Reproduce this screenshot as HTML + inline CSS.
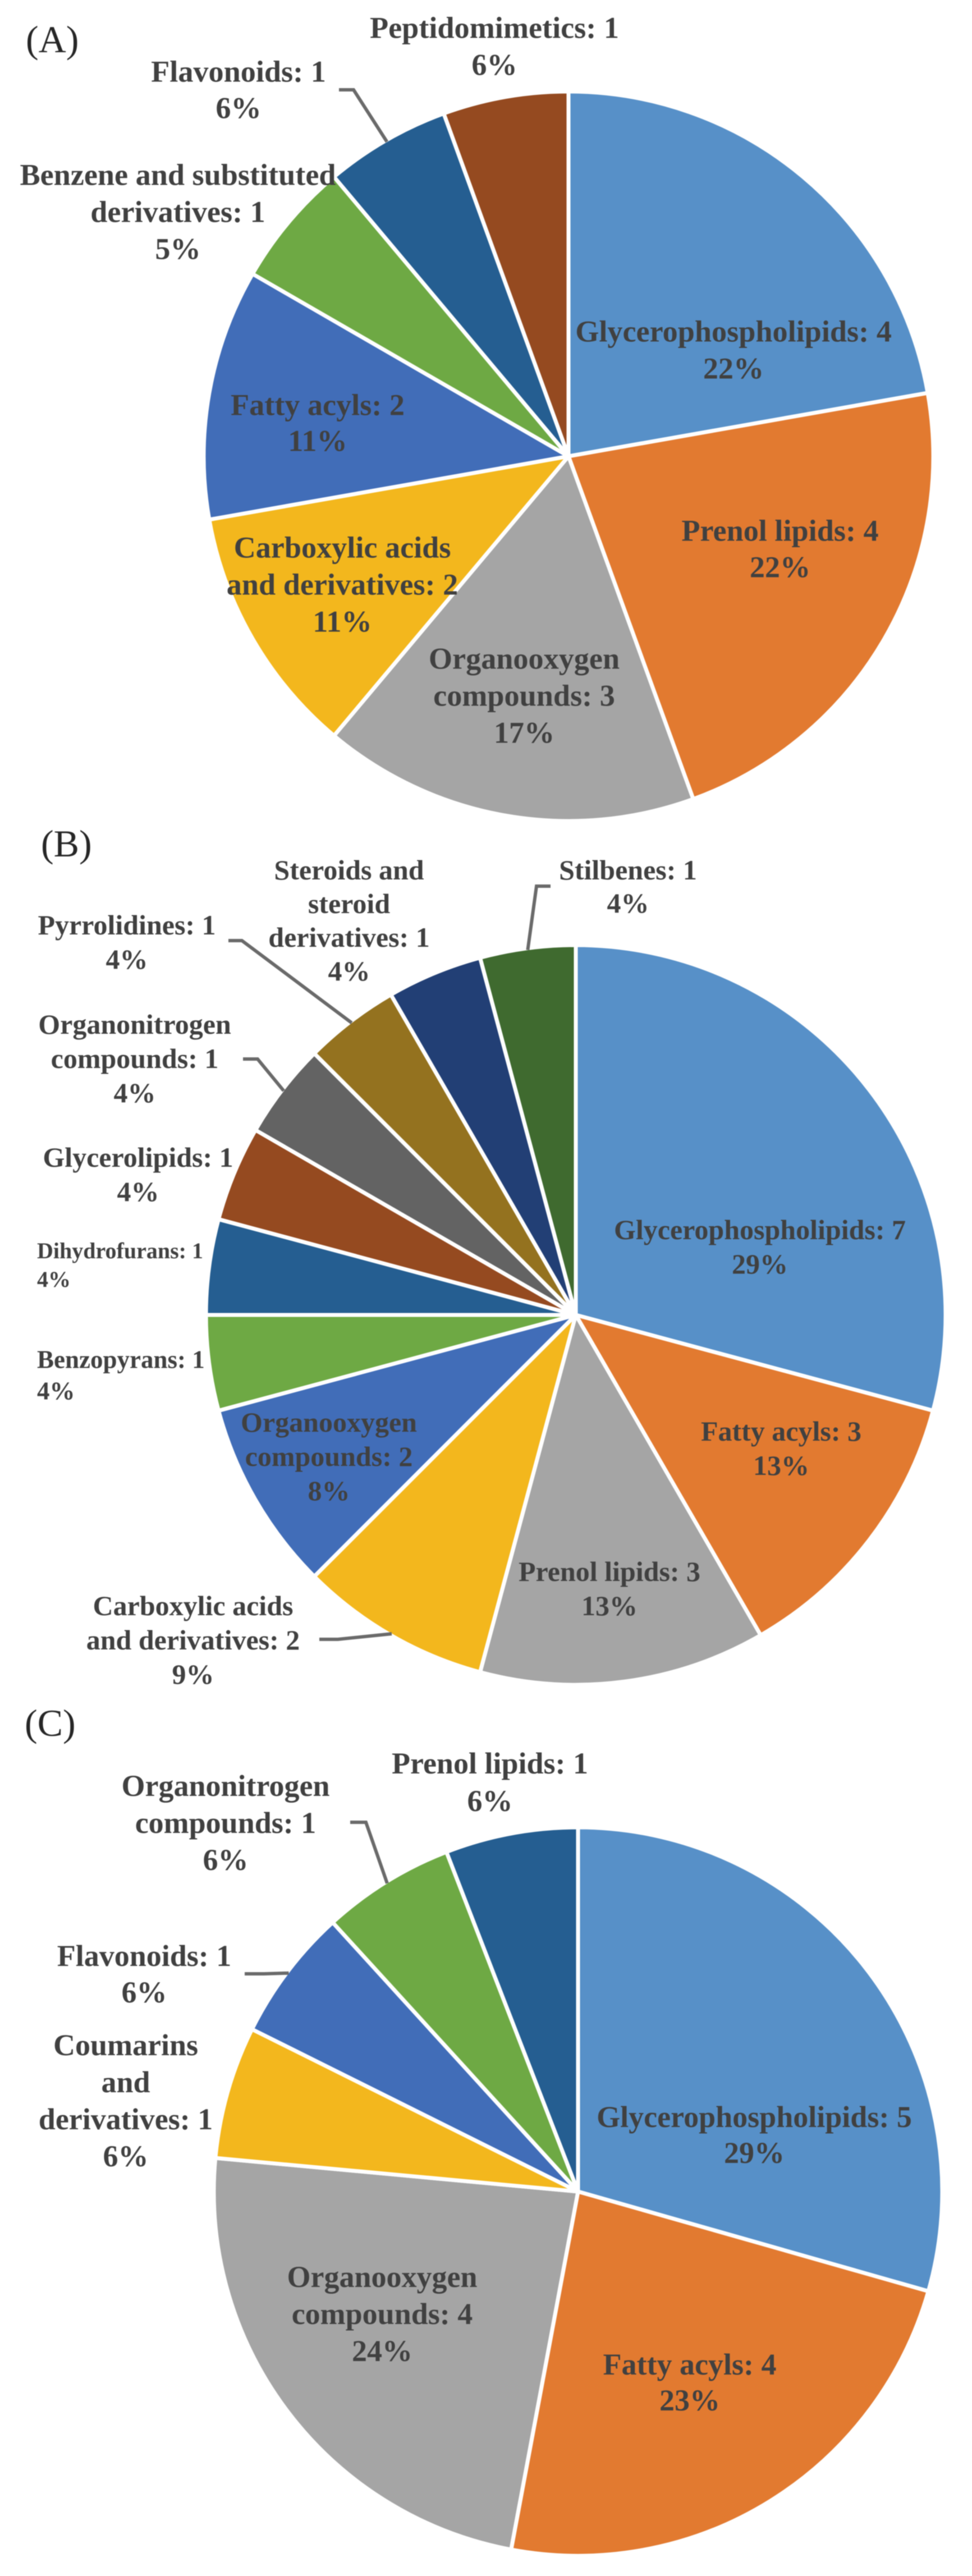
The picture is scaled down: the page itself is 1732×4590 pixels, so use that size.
<!DOCTYPE html>
<html lang="en">
<head>
<meta charset="utf-8">
<title>Pie charts of compound classes</title>
<style>
  html, body { margin: 0; padding: 0; background: #ffffff; }
  svg { display: block; filter: blur(0.8px); }
  text { font-family: "Liberation Serif", serif; }
  .lbl { font-weight: bold; fill: #404040; }
  .panel { fill: #262626; font-size: 68px; }
</style>
</head>
<body>
<svg id="figure" xmlns="http://www.w3.org/2000/svg" width="1732" height="4590" viewBox="0 0 1732 4590">
  <rect x="0" y="0" width="1732" height="4590" fill="#ffffff"/>
  <text class="panel" x="46" y="93">(A)</text>
  <text class="panel" x="73" y="1526">(B)</text>
  <text class="panel" x="44" y="3093">(C)</text>
</svg>
<script>
// ---- Data: panel A ----
const categoriesA = ["Glycerophospholipids", "Prenol lipids", "Organooxygen\ncompounds", "Carboxylic acids\nand derivatives", "Fatty acyls", "Benzene and substituted\nderivatives", "Flavonoids", "Peptidomimetics"];
const countsA = [4, 4, 3, 2, 2, 1, 1, 1];
const percentLabelsA = ["22%", "22%", "17%", "11%", "11%", "5%", "6%", "6%"];

// ---- Data: panel B ----
const categoriesB = ["Glycerophospholipids", "Fatty acyls", "Prenol lipids", "Carboxylic acids\nand derivatives", "Organooxygen\ncompounds", "Benzopyrans", "Dihydrofurans", "Glycerolipids", "Organonitrogen\ncompounds", "Pyrrolidines", "Steroids and\nsteroid\nderivatives", "Stilbenes"];
const countsB = [7, 3, 3, 2, 2, 1, 1, 1, 1, 1, 1, 1];
const percentLabelsB = ["29%", "13%", "13%", "9%", "8%", "4%", "4%", "4%", "4%", "4%", "4%", "4%"];

// ---- Data: panel C ----
const categoriesC = ["Glycerophospholipids", "Fatty acyls", "Organooxygen\ncompounds", "Coumarins\nand\nderivatives", "Flavonoids", "Organonitrogen\ncompounds", "Prenol lipids"];
const countsC = [5, 4, 4, 1, 1, 1, 1];
const percentLabelsC = ["29%", "23%", "24%", "6%", "6%", "6%", "6%"];

// ---- Styling ----
const palette = ["#5790C8", "#E27A30", "#A5A5A5", "#F3B71D", "#416DB8", "#6EA944", "#255E91", "#954A20", "#636363", "#94721F", "#223F75", "#3F6A2F"];

// ---- Label placement (not data): x, first line centre y, line step, font size, anchor ----
const labelPlacementA = [
  [1307, 592, 66, 54.2, "middle"], [1390, 947, 65, 54.2, "middle"], [934, 1175, 66, 54.2, "middle"], [610, 977, 66, 54.2, "middle"],
  [566, 723, 64, 54.2, "middle"], [317, 313, 66, 54.2, "middle"], [425, 129, 65, 54.2, "middle"], [881, 51, 66, 54.2, "middle"]
];
const labelPlacementB = [
  [1354, 2193, 61, 50, "middle"], [1392, 2552, 61, 50, "middle"], [1086, 2802, 61, 50, "middle"], [344, 2863, 61, 50, "middle"],
  [586, 2536, 61, 50, "middle"], [66, 2424, 56, 45, "start"], [66, 2230, 51, 40, "start"], [246, 2064, 61, 50, "middle"],
  [240, 1827, 61, 50, "middle"], [226, 1650, 61, 50, "middle"], [622, 1552, 60, 50, "middle"], [1119, 1552, 59, 50, "middle"]
];
const labelPlacementC = [
  [1344, 3774, 64, 54, "middle"], [1229, 4215, 64, 54, "middle"], [681, 4059, 66, 54, "middle"], [224, 3646, 66, 54, "middle"],
  [257, 3487, 65, 54, "middle"], [402, 3184, 66, 54, "middle"], [873, 3144, 67, 54, "middle"]
];

// ---- Leader lines (not data): slice index, start point, elbow point; end follows the slice ----
const leadersA = [[6, 604, 160, 630, 160]];
const leadersB = [[11, 981, 1579, 956, 1579], [9, 407, 1676, 431, 1676], [8, 433, 1887, 459, 1887], [3, 569, 2921, 602, 2921]];
const leadersC = [[5, 624, 3247, 652, 3247], [4, 436, 3517, 470, 3517]];

const SVG_NS = "http://www.w3.org/2000/svg";
const figure = document.getElementById("figure");

function slug(s) {
  return s.toLowerCase().replace(/[^a-z0-9]+/g, "-").replace(/^-|-$/g, "");
}

// axis function: cumulative count -> clockwise angle from 12 o'clock
function angleScale(counts) {
  const total = counts.reduce(function (a, b) { return a + b; }, 0);
  return function (cum) { return cum / total * 2 * Math.PI; };
}

function polar(cx, cy, r, a) {
  return [cx + r * Math.sin(a), cy - r * Math.cos(a)];
}

function drawPie(panel, cx, cy, r, categories, counts, percents, placement, leaders) {
  const angle = angleScale(counts);

  const group = document.createElementNS(SVG_NS, "g");
  
  
  figure.appendChild(group);

  const mids = [];
  let cum = 0;
  counts.forEach(function (v, i) {
    const a0 = angle(cum);
    const a1 = angle(cum + v);
    cum += v;
    mids.push((a0 + a1) / 2);
    const p0 = polar(cx, cy, r, a0);
    const p1 = polar(cx, cy, r, a1);
    const large = a1 - a0 > Math.PI ? 1 : 0;
    const slice = document.createElementNS(SVG_NS, "path");
    slice.setAttribute("d", "M" + cx + " " + cy + "L" + p0[0] + " " + p0[1] + "A" + r + " " + r + " 0 " + large + " 1 " + p1[0] + " " + p1[1] + "Z");
    slice.setAttribute("fill", palette[i % palette.length]);
    slice.setAttribute("stroke", "#ffffff");
    slice.setAttribute("stroke-width", "7");
    slice.setAttribute("stroke-linejoin", "round");
    
    
    group.appendChild(slice);
  });

  leaders.forEach(function (l) {
    const end = polar(cx, cy, r - 3, mids[l[0]]);
    const line = document.createElementNS(SVG_NS, "polyline");
    line.setAttribute("points", l[1] + "," + l[2] + " " + l[3] + "," + l[4] + " " + end[0] + "," + end[1]);
    line.setAttribute("fill", "none");
    line.setAttribute("stroke", "#6a6a6a");
    line.setAttribute("stroke-width", "6");
    
    
    group.appendChild(line);
  });

  categories.forEach(function (name, i) {
    const pl = placement[i];
    const lines = name.split("\n");
    lines[lines.length - 1] += ": " + counts[i];
    lines.push(percents[i]);
    const label = document.createElementNS(SVG_NS, "text");
    label.setAttribute("class", "lbl");
    label.setAttribute("font-size", pl[3]);
    label.setAttribute("text-anchor", pl[4]);
    
    
    lines.forEach(function (t, k) {
      const row = document.createElementNS(SVG_NS, "tspan");
      row.setAttribute("x", pl[0]);
      row.setAttribute("y", pl[1] + k * pl[2] + 0.3 * pl[3]);
      row.textContent = t;
      label.appendChild(row);
    });
    group.appendChild(label);
  });
}

drawPie("a", 1013, 813, 650, categoriesA, countsA, percentLabelsA, labelPlacementA, leadersA);
drawPie("b", 1026, 2343, 659, categoriesB, countsB, percentLabelsB, labelPlacementB, leadersB);
drawPie("c", 1030, 3905, 649, categoriesC, countsC, percentLabelsC, labelPlacementC, leadersC);
</script>
</body>
</html>
